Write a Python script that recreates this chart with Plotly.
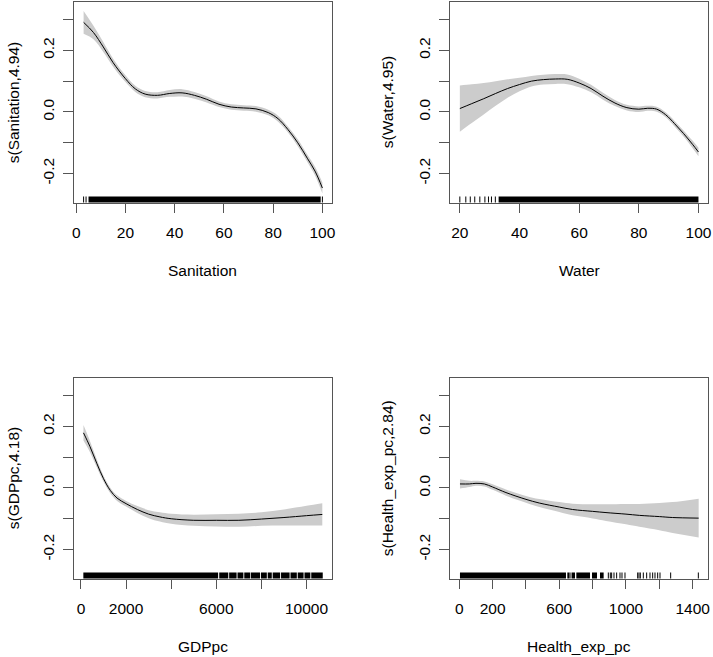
import plotly.graph_objects as go

# ---------------- data ----------------
# Panel 1: Sanitation
san_x   = [3, 7, 11, 15, 20, 24, 28, 33, 38, 43, 48, 53, 58, 63, 68, 73, 78, 82, 86, 90, 94, 97, 100]
san_fit = [0.291, 0.258, 0.211, 0.160, 0.108, 0.075, 0.058, 0.054, 0.060, 0.062, 0.054, 0.041, 0.025,
           0.016, 0.013, 0.010, -0.002, -0.022, -0.057, -0.100, -0.152, -0.192, -0.247]
san_se  = [0.037, 0.022, 0.016, 0.013, 0.011, 0.010, 0.010, 0.010, 0.011, 0.012, 0.011, 0.010, 0.009,
           0.009, 0.009, 0.009, 0.009, 0.010, 0.010, 0.011, 0.012, 0.014, 0.018]
san_rug_ticks = [3, 4, 100]
san_rug_dense = [(5, 99.3)]

# Panel 2: Water
wat_x   = [20, 24, 28, 32, 36, 40, 44, 48, 52, 56, 60, 64, 68, 72, 76, 80, 83, 86, 89, 92, 95, 98, 100]
wat_fit = [0.011, 0.027, 0.043, 0.060, 0.076, 0.089, 0.100, 0.105, 0.107, 0.106, 0.094, 0.076, 0.051,
           0.029, 0.014, 0.009, 0.012, 0.009, -0.009, -0.038, -0.070, -0.105, -0.130]
wat_se  = [0.075, 0.063, 0.051, 0.040, 0.030, 0.022, 0.017, 0.016, 0.016, 0.016, 0.014, 0.012, 0.011,
           0.010, 0.009, 0.009, 0.008, 0.008, 0.008, 0.009, 0.010, 0.012, 0.014]
wat_rug_ticks = [20, 22, 23.5, 25, 26.7, 28.4, 29.6, 30.6, 31.9]
wat_rug_dense = [(33, 100)]

# Panel 3: GDPpc
gdp_x   = [110, 400, 700, 1000, 1300, 1600, 2000, 2500, 3000, 3500, 4000, 5000, 6000, 7000, 8000,
           9000, 10000, 10700]
gdp_fit = [0.179, 0.134, 0.080, 0.030, -0.008, -0.033, -0.051, -0.070, -0.085, -0.094, -0.100,
           -0.105, -0.105, -0.105, -0.101, -0.096, -0.090, -0.086]
gdp_se  = [0.025, 0.018, 0.013, 0.010, 0.009, 0.009, 0.009, 0.011, 0.013, 0.015, 0.016, 0.018,
           0.020, 0.021, 0.022, 0.026, 0.032, 0.036]
gdp_rug_ticks = []
gdp_rug_dense = [(104, 6080), (6130, 6530), (6570, 6900), (6940, 7200), (7240, 7500), (7530, 7940),
                 (7980, 8240), (8280, 8460), (8500, 8830), (8870, 9250), (9290, 9570), (9610, 9870),
                 (9910, 10170), (10210, 10720)]

# Panel 4: Health_exp_pc
hea_x   = [4, 60, 100, 150, 200, 280, 400, 480, 600, 680, 800, 880, 1000, 1080, 1200, 1280, 1436]
hea_fit = [0.013, 0.013, 0.015, 0.013, 0.003, -0.015, -0.037, -0.049, -0.062, -0.070, -0.076,
           -0.080, -0.085, -0.089, -0.093, -0.096, -0.098]
hea_se  = [0.015, 0.010, 0.008, 0.008, 0.009, 0.010, 0.011, 0.013, 0.016, 0.019, 0.023, 0.027,
           0.033, 0.037, 0.044, 0.050, 0.063]
hea_rug_ticks = [670, 894, 906, 914, 928, 944, 964, 976, 994, 1070, 1078, 1086, 1104, 1124, 1144,
                 1160, 1174, 1190, 1204, 1268, 1434]
hea_rug_dense = [(4, 640), (648, 662), (676, 694), (702, 784), (796, 826), (844, 866)]

x_titles = ["Sanitation", "Water", "GDPpc", "Health_exp_pc"]
y_titles = ["s(Sanitation,4.94)", "s(Water,4.95)", "s(GDPpc,4.18)", "s(Health_exp_pc,2.84)"]

x_tickvals = [[0, 20, 40, 60, 80, 100], [20, 40, 60, 80, 100],
              [0, 2000, 4000, 6000, 8000, 10000], [0, 200, 400, 600, 800, 1000, 1200, 1400]]
x_ticktext = [["0", "20", "40", "60", "80", "100"], ["20", "40", "60", "80", "100"],
              ["0", "2000", "", "6000", "", "10000"], ["0", "200", "", "600", "", "1000", "", "1400"]]
y_tickvals = [-0.2, -0.1, 0.0, 0.1, 0.2, 0.3]
y_ticktext = ["-0.2", "", "0.0", "", "0.2", ""]

# ---------------- layout geometry ----------------
W, H = 713, 657
x_ranges = [[-0.9, 103.9], [16.8, 103.2], [-310, 11130], [-54, 1492]]
y_range = [-0.294, 0.357]
dom_x = [[74 / W, 332 / W], [450.3 / W, 708 / W]]
dom_y = [[1 - 202.5 / H, 1 - 2 / H], [1 - 578.5 / H, 1 - 378 / H]]

FONT = "Liberation Sans, Arial, sans-serif"
FS = 15.5
AXC = "#555555"
BAND = "#cccccc"

panels = [
    (san_x, san_fit, san_se, san_rug_ticks, san_rug_dense),
    (wat_x, wat_fit, wat_se, wat_rug_ticks, wat_rug_dense),
    (gdp_x, gdp_fit, gdp_se, gdp_rug_ticks, gdp_rug_dense),
    (hea_x, hea_fit, hea_se, hea_rug_ticks, hea_rug_dense),
]

fig = go.Figure()
shapes = []
annotations = []
layout = {}

for i, (xs, fit, se, rticks, rdense) in enumerate(panels):
    n = i + 1
    xa = "x" if n == 1 else f"x{n}"
    ya = "y" if n == 1 else f"y{n}"
    col, row = i % 2, i // 2
    upper = [f + s for f, s in zip(fit, se)]
    lower = [f - s for f, s in zip(fit, se)]
    fig.add_trace(go.Scatter(x=xs, y=lower, mode="lines", line=dict(width=0, shape="spline", color=BAND),
                             xaxis=xa, yaxis=ya, showlegend=False, hoverinfo="skip"))
    fig.add_trace(go.Scatter(x=xs, y=upper, mode="lines", line=dict(width=0, shape="spline", color=BAND),
                             fill="tonexty", fillcolor=BAND, xaxis=xa, yaxis=ya,
                             showlegend=False, hoverinfo="skip"))
    fig.add_trace(go.Scatter(x=xs, y=fit, mode="lines", line=dict(width=1, shape="spline", color="black"),
                             xaxis=xa, yaxis=ya, showlegend=False))
    # rug
    for a, b in rdense:
        shapes.append(dict(type="rect", xref=xa, yref=f"{ya} domain", x0=a, x1=b, y0=0, y1=0.03,
                           fillcolor="black", line=dict(width=0)))
    for t in rticks:
        shapes.append(dict(type="line", xref=xa, yref=f"{ya} domain", x0=t, x1=t, y0=0, y1=0.03,
                           line=dict(color="black", width=1)))

    axkey_x = "xaxis" if n == 1 else f"xaxis{n}"
    axkey_y = "yaxis" if n == 1 else f"yaxis{n}"
    layout[axkey_x] = dict(domain=dom_x[col], range=x_ranges[i], anchor=ya, showgrid=False, zeroline=False,
                           showline=True, mirror=True, linecolor=AXC, linewidth=1,
                           ticks="outside", ticklen=9, tickwidth=1, tickcolor=AXC,
                           tickvals=x_tickvals[i], ticktext=x_ticktext[i], ticklabelstandoff=7,
                           tickfont=dict(family=FONT, size=FS, color="black"), automargin=False)
    layout[axkey_y] = dict(domain=dom_y[row], range=y_range, anchor=xa, showgrid=False, zeroline=False,
                           showline=True, mirror=True, linecolor=AXC, linewidth=1,
                           ticks="outside", ticklen=10, tickwidth=1, tickcolor=AXC,
                           tickvals=y_tickvals, ticktext=y_ticktext, tickangle=-90, ticklabelstandoff=3,
                           tickfont=dict(family=FONT, size=FS, color="black"), automargin=False)

    # axis titles
    cx = (dom_x[col][0] + dom_x[col][1]) / 2
    cy = (dom_y[row][0] + dom_y[row][1]) / 2
    xt_y = [271, 646][row]
    yt_x = [13, 387][col]
    annotations.append(dict(text=x_titles[i], xref="paper", yref="paper", x=cx, y=1 - xt_y / H,
                            xanchor="center", yanchor="middle", showarrow=False,
                            font=dict(family=FONT, size=FS, color="black")))
    annotations.append(dict(text=y_titles[i], xref="paper", yref="paper", x=yt_x / W, y=cy,
                            xanchor="center", yanchor="middle", textangle=-90, showarrow=False,
                            font=dict(family=FONT, size=FS, color="black")))

fig.update_layout(width=W, height=H, margin=dict(l=0, r=0, t=0, b=0),
                  paper_bgcolor="white", plot_bgcolor="white",
                  shapes=shapes, annotations=annotations, **layout)

fig.write_html("out.html", config={"displayModeBar": False},
               post_script="document.body.style.margin='0';document.body.style.padding='0';"
                           "document.documentElement.style.overflow='hidden';")
